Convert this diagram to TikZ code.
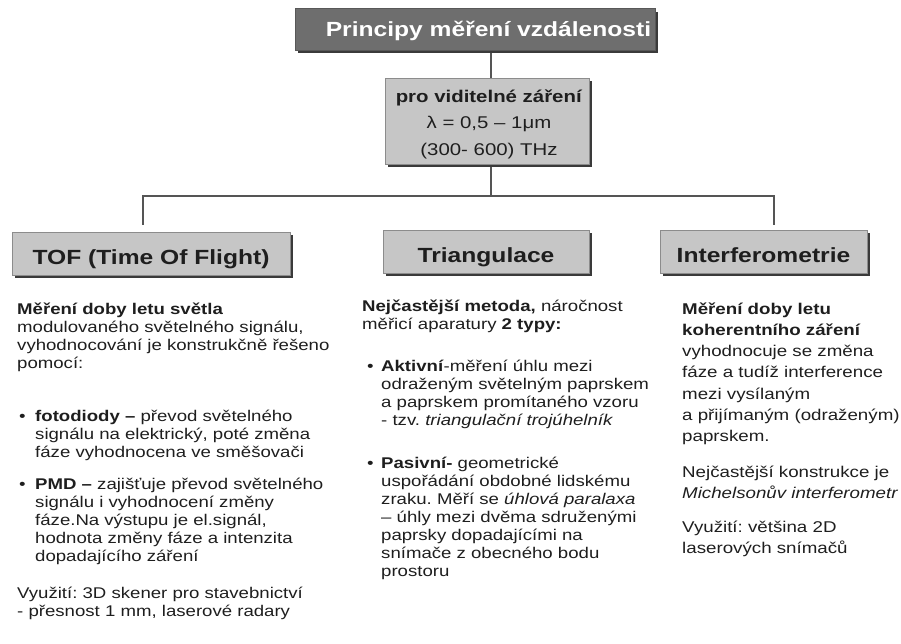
\documentclass[tikz,border=0pt]{standalone}
\usepackage{fontspec}
\setmainfont{Liberation Sans}[FakeStretch=1.2]
\usetikzlibrary{shadows}

\definecolor{ink}{HTML}{1E1E1E}
\definecolor{titlegray}{HTML}{6E6E6E}
\definecolor{boxgray}{HTML}{C6C6C6}
\definecolor{edgegray}{HTML}{8C8C8C}
\definecolor{linegray}{HTML}{555555}
\definecolor{shade}{HTML}{3A3A3A}

\newcommand\bodysize{\fontsize{15.5}{18}\selectfont\frenchspacing}
\newcommand\rightsize{\fontsize{15.6}{21.2}\selectfont\frenchspacing}
\newcommand\headsize{\fontsize{20.5}{24}\selectfont\bfseries}
\newcommand\infosize{\fontsize{17}{26.5}\selectfont}

\pgfdeclarelayer{back}
\pgfsetlayers{back,main}

\tikzset{
  boxshadow/.style={drop shadow={shadow xshift=3pt, shadow yshift=-3pt, fill=shade, opacity=1}},
  titlebox/.style={boxshadow, fill=titlegray, draw=titlegray!80!black, line width=0.6pt,
    text=white, font=\headsize, inner sep=0pt, text height=15pt, text depth=0pt},
  headbox/.style={boxshadow, fill=boxgray, draw=edgegray, line width=0.6pt, text=ink,
    font=\headsize, inner sep=0pt, minimum height=43pt, text height=21.5pt, text depth=0.5pt},
  infobox/.style={boxshadow, fill=boxgray, draw=edgegray, line width=0.6pt, inner sep=0pt},
  conn/.style={draw=linegray, line width=2.2pt},
  para/.style={anchor=north west, inner sep=0pt, text width=420pt, align=left, text=ink, font=\bodysize},
  rpara/.style={para, font=\rightsize},
  bul/.style={anchor=north west, inner sep=0pt, text=ink, font=\bodysize},
}

\begin{document}
\begin{tikzpicture}[x=1pt, y=-1pt]
\useasboundingbox (0,0) rectangle (901,644);

% title and wavelength box
\node[titlebox, minimum width=360pt, minimum height=41.5pt] (title) at (475,29.5)
  {\hspace*{27pt}Principy měření vzdálenosti};
\node[infobox, minimum width=204pt, minimum height=86pt] (info) at (487,121) {};
\node[anchor=north, inner sep=0pt, text width=204pt, align=center, font=\infosize, text=ink]
  (infotext) at (489,83.45)
  {\strut\textbf{pro viditelné záření}\\λ = 0,5 – 1μm\\(300- 600) THz};

% method headings
\node[headbox, minimum width=278pt] (tof) at (151,253.5) {TOF (Time Of Flight)};
\node[headbox, minimum width=206pt] (tri) at (486,251.5) {Triangulace};
\node[headbox, minimum width=207pt] (intf) at (763.5,251.5) {Interferometrie};

% connectors
\coordinate (hub) at (491,196);
\coordinate (tofin) at (143,225);
\coordinate (ifin) at (774,225);
\begin{pgfonlayer}{back}
  \draw[conn] (title.south -| hub) -- (info.north -| hub);
  \draw[conn] (info.south -| hub) -- (hub);
  \draw[conn] (hub) -| (tofin);
  \draw[conn] (hub) -| (ifin);
\end{pgfonlayer}

% TOF column
\node[para] (tofintro) at (17,301.4)
  {\strut\textbf{Měření doby letu světla}\\modulovaného světelného signálu,\\vyhodnocování je konstrukčně řešeno\\pomocí:};
\node[bul] (tofdot1) at (19,408.4) {\strut\textbullet};
\node[para] (tofitem1) at (35,408.4)
  {\strut\textbf{fotodiody –} převod světelného\\signálu na elektrický, poté změna\\fáze vyhodnocena ve směšovači};
\node[bul] (tofdot2) at (19,476.4) {\strut\textbullet};
\node[para] (tofitem2) at (35,476.4)
  {\strut\textbf{PMD –} zajišťuje převod světelného\\signálu i vyhodnocení změny\\fáze.Na výstupu je el.signál,\\hodnota změny fáze a intenzita\\dopadajícího záření};
\node[para] (tofuse) at (17,585.4)
  {\strut Využití: 3D skener pro stavebnictví\\- přesnost 1 mm, laserové radary};

% triangulation column
\node[para] (triintro) at (362,298.4)
  {\strut\textbf{Nejčastější metoda,} náročnost\\měřicí aparatury \textbf{2 typy:}};
\node[bul] (tridot1) at (367,358.4) {\strut\textbullet};
\node[para] (triitem1) at (381,358.4)
  {\strut\textbf{Aktivní}-měření úhlu mezi\\odraženým světelným paprskem\\a paprskem promítaného vzoru\\- tzv. \textit{triangulační trojúhelník}};
\node[bul] (tridot2) at (367,455.4) {\strut\textbullet};
\node[para] (triitem2) at (381,455.4)
  {\strut\textbf{Pasivní-} geometrické\\uspořádání obdobné lidskému\\zraku. Měří se \textit{úhlová paralaxa}\\– úhly mezi dvěma sdruženými\\paprsky dopadajícími na\\snímače z obecného bodu\\prostoru};

% interferometry column
\node[rpara] (ifintro) at (682,299.16)
  {\strut\textbf{Měření doby letu}\\\textbf{koherentního záření}\\vyhodnocuje se změna\\fáze a tudíž interference\\mezi vysílaným\\a přijímaným (odraženým)\\paprskem.};
\node[rpara] (ifdesign) at (682,462.16)
  {\strut Nejčastější konstrukce je\\\textit{Michelsonův interferometr}};
\node[rpara] (ifuse) at (682,517.16)
  {\strut Využití: většina 2D\\laserových snímačů};
\end{tikzpicture}
\end{document}
